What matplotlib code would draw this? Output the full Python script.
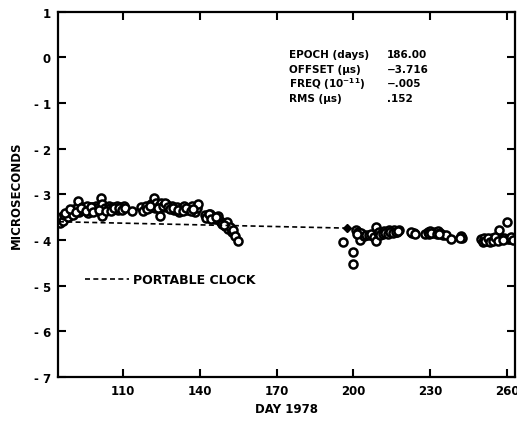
import matplotlib
matplotlib.use("Agg")
import matplotlib.pyplot as plt
from matplotlib.lines import Line2D

plt.rcParams['font.family'] = ['DejaVu Sans']
plt.rcParams['font.weight'] = 'bold'
plt.rcParams['mathtext.default'] = 'bf'

# measured offsets (days of 1978, microseconds)
days = [85, 85.5, 86, 86.5, 87, 88, 88.5, 89, 90, 90.5, 91, 92, 92.4, 93, 94, 94.5,
        95, 96, 96.5, 97, 98, 99, 99.5, 100, 101, 101.4, 102, 102, 103, 104, 104.5,
        105, 106, 107, 107.5, 108, 109, 110, 110.5,
        87.5, 89.5, 91.5, 93.5, 95.5, 97.5, 98.5, 100.5, 103.5, 105.5, 106.5, 108.5,
        109.5, 111,
        113.5,
        117, 118, 119, 120, 121, 122, 122.5, 123, 124, 124.5, 125, 126, 127, 128,
        129, 130, 131, 132, 133, 134, 135, 136, 137, 138, 139, 139.5,
        119.5, 120.5, 123.5, 125.5, 126.5, 127.5, 128.5, 129.5, 131.5, 133.5,
        134.5, 136.5, 137.5,
        142, 143, 144, 145, 146, 147, 148, 149, 150, 150.5, 151, 152, 152.5, 153,
        153.7, 155, 142.5, 143.5, 144.5, 146.5, 148.5, 149.5,
        195.9, 199.8, 199.8, 201, 202, 202.6, 203, 204, 205, 206, 207, 208, 208.8,
        208.8, 209.5, 210, 211, 212, 213, 214, 215, 216, 217, 218, 223, 223.5,
        201.5, 210.5, 211.5, 212.5, 213.5, 214.5, 215.5, 216.5, 217.5, 222.5, 224,
        228, 229, 230, 231, 232, 233, 234, 235, 236, 238, 242, 242.5,
        229.5, 230.5, 232.5, 233.5, 241.5,
        250, 251, 252, 253, 254, 255, 256, 257, 258, 259, 260, 260.5, 261, 262,
        250.5, 251.5, 252.5, 253.5, 254.5, 255.5, 256.5, 258.5, 261.5, 262.5]
offsets = [-3.55, -3.62, -3.5, -3.58, -3.45, -3.42, -3.5, -3.38, -3.35, -3.45, -3.32,
           -3.3, -3.14, -3.38, -3.28, -3.35, -3.3, -3.25, -3.4, -3.32, -3.28, -3.35,
           -3.25, -3.3, -3.38, -3.08, -3.47, -3.22, -3.3, -3.35, -3.25, -3.3, -3.28,
           -3.32, -3.26, -3.34, -3.28, -3.3, -3.26,
           -3.4, -3.32, -3.38, -3.3, -3.36, -3.27, -3.38, -3.34, -3.37, -3.36,
           -3.3, -3.3, -3.35, -3.3,
           -3.36,
           -3.27, -3.36, -3.25, -3.3, -3.22, -3.08, -3.3, -3.2, -3.25, -3.47, -3.2,
           -3.28, -3.22, -3.3, -3.25, -3.35, -3.28, -3.38, -3.3, -3.25, -3.35, -3.3,
           -3.25, -3.38, -3.3, -3.22,
           -3.33, -3.26, -3.3, -3.25, -3.2, -3.27, -3.33, -3.3, -3.34, -3.36,
           -3.3, -3.36, -3.32,
           -3.45, -3.5, -3.42, -3.5, -3.55, -3.48, -3.58, -3.62, -3.7, -3.6, -3.75,
           -3.72, -3.82, -3.78, -3.91, -4.02, -3.52, -3.44, -3.55, -3.5, -3.66,
           -3.68,
           -4.04, -4.26, -4.53, -3.78, -3.82, -4.0, -3.85, -3.92, -3.88, -3.9, -3.86,
           -3.93, -3.71, -4.02, -3.85, -3.82, -3.85, -3.8, -3.82, -3.78, -3.8, -3.78,
           -3.82, -3.78, -3.85, -3.85,
           -3.86, -3.88, -3.86, -3.84, -3.86, -3.82, -3.84, -3.82, -3.8, -3.82, -3.86,
           -3.87, -3.82, -3.8, -3.84, -3.82, -3.8, -3.85, -3.88, -3.9, -3.98, -3.92,
           -3.95,
           -3.86, -3.84, -3.86, -3.86, -3.95,
           -3.98, -3.95, -4.02, -3.98, -3.95, -4.0, -3.96, -3.78, -3.97, -3.95, -3.6,
           -3.97, -3.98, -3.96,
           -4.04, -4.03, -3.96, -4.05, -4.02, -3.93, -4.03, -4.0, -3.94, -4.0]

clock_days = [85, 197.5]
clock_offsets = [-3.6, -3.74]

yticks = [1, 0, -1, -2, -3, -4, -5, -6, -7]
ylabels = ['1', '0', '- 1', '- 2', '- 3', '- 4', '- 5', '- 6', '- 7']
xticks = [110, 140, 170, 200, 230, 260]

fig = plt.figure(figsize=(5.17, 4.27), dpi=100)
ax = fig.add_axes([0.112, 0.115, 0.884, 0.855])

ax.plot(days, offsets, 'o', mfc='white', mec='black', mew=1.8, ms=5.8)
ax.plot(clock_days, clock_offsets, '--', color='black', lw=1.2, dashes=(3, 2))
ax.plot(clock_days[-1:], clock_offsets[-1:], 'D', color='black', ms=4)

ax.set_xlim(84.6, 263.1)
ax.set_ylim(-7, 1)
ax.set_xticks(xticks)
ax.set_yticks(yticks)
ax.set_yticklabels(ylabels)
ax.tick_params(direction='in', length=6, width=1.5, top=True, right=True,
               labelsize=8.5, pad=5)
for s in ax.spines.values():
    s.set_linewidth(1.6)

ax.set_xlabel('DAY 1978', fontsize=8.5, fontweight='bold', labelpad=4)
ax.set_ylabel('MICROSECONDS', fontsize=8.5, fontweight='bold', labelpad=8)

handle = Line2D([], [], color='black', ls='--', lw=1.2, dashes=(3, 2))
leg = ax.legend([handle], ['PORTABLE CLOCK'], loc='center left',
                bbox_to_anchor=(0.035, 0.266), frameon=False, handlelength=3.5,
                handletextpad=0.3, prop={'size': 9, 'weight': 'bold'})

names = ['EPOCH (days)', 'OFFSET (\u00b5s)', 'FREQ (10$^{-11}$)', 'RMS (\u00b5s)']
vals = ['186.00', '\u22123.716', '\u2212.005', '.152']
ys = [0.885, 0.844, 0.805, 0.764]
for n, v, y in zip(names, vals, ys):
    ax.text(0.505, y, n, transform=ax.transAxes, fontsize=7.5, va='center')
    ax.text(0.72, y, v, transform=ax.transAxes, fontsize=7.5, va='center')

fig.savefig('out.png', dpi=100)
